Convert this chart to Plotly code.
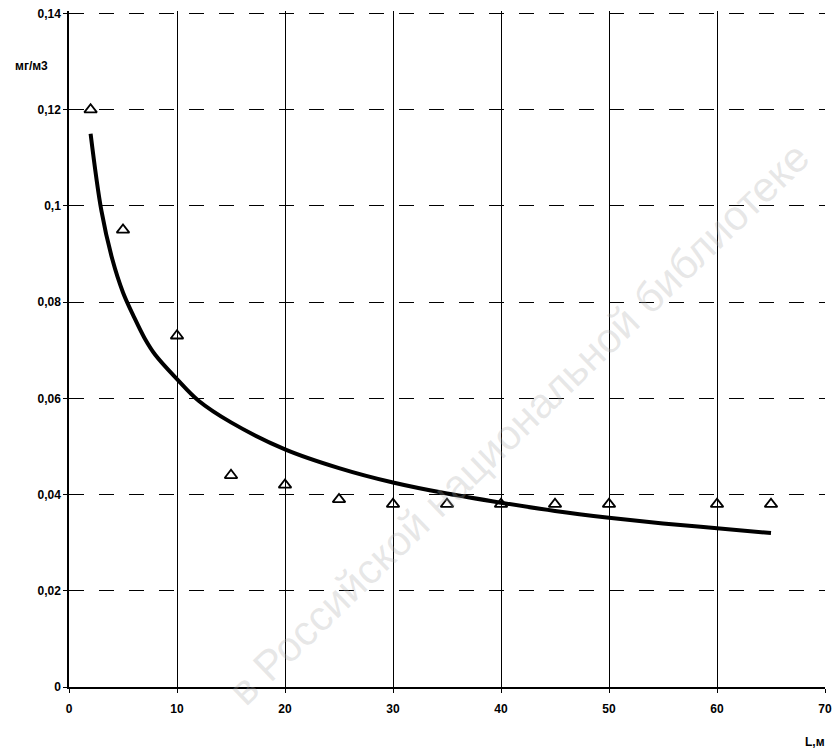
import plotly.graph_objects as go

# Measured points (triangles)
pts_x = [2, 5, 10, 15, 20, 25, 30, 35, 40, 45, 50, 60, 65]
pts_y = [0.120, 0.095, 0.073, 0.044, 0.042, 0.039, 0.038, 0.038, 0.038, 0.038, 0.038, 0.038, 0.038]

# Trend curve
curve_x = [2, 3, 4, 5, 6, 7, 8, 10, 12, 15, 20, 25, 30, 35, 40, 45, 50, 55, 60, 65]
curve_y = [0.115, 0.099, 0.089, 0.082, 0.077, 0.0725, 0.069, 0.064, 0.0595, 0.055, 0.0494, 0.0455, 0.0425,
           0.0402, 0.0383, 0.0366, 0.0352, 0.034, 0.033, 0.032]

x_ticks = [0, 10, 20, 30, 40, 50, 60, 70]
y_ticks = [0, 0.02, 0.04, 0.06, 0.08, 0.10, 0.12, 0.14]
y_tick_text = ["0", "0,02", "0,04", "0,06", "0,08", "0,1", "0,12", "0,14"]

fig = go.Figure()
fig.add_trace(go.Scatter(x=curve_x, y=curve_y, mode="lines",
                         line=dict(color="black", width=4, shape="spline", smoothing=1.0),
                         showlegend=False, hoverinfo="skip"))
fig.add_trace(go.Scatter(x=pts_x, y=pts_y, mode="markers",
                         marker=dict(symbol="triangle-up-open", size=11,
                                     color="black", line=dict(width=1.8, color="black")),
                         showlegend=False))

font_tick = dict(family="Liberation Sans Narrow, Arial Narrow, Liberation Sans, Arial", size=12, color="black")

fig.update_xaxes(range=[0, 70], tickvals=x_ticks, ticktext=["<b>%d</b>" % v for v in x_ticks],
                 showgrid=True, gridcolor="black", gridwidth=1, griddash="solid",
                 showline=True, linecolor="black", linewidth=1.5, mirror=False,
                 ticks="outside", ticklen=4, tickcolor="black", automargin=False,
                 tickfont=font_tick, zeroline=False, ticklabelstandoff=6)
fig.update_yaxes(range=[0, 0.1405], tickvals=y_ticks, ticktext=["<b>%s</b>" % t for t in y_tick_text],
                 showgrid=True, gridcolor="black", gridwidth=1, griddash="longdash",
                 showline=True, linecolor="black", linewidth=1.5, automargin=False,
                 ticks="outside", ticklen=4, tickcolor="black",
                 tickfont=font_tick, zeroline=False)

fig.update_layout(
    width=833, height=752,
    margin=dict(l=69, r=8, t=11, b=65),
    paper_bgcolor="white", plot_bgcolor="white",
    annotations=[
        dict(text="<b>мг/м3</b>", x=-0.05, y=0.918, xref="paper", yref="paper",
             xanchor="center", yanchor="middle", showarrow=False,
             font=dict(family="Liberation Sans, Arial", size=12, color="black")),
        dict(text="<b>L,м</b>", xref="paper", yref="paper", x=1.003, y=-0.082,
             xanchor="right", yanchor="middle", showarrow=False,
             font=dict(family="Liberation Sans, Arial", size=12, color="black")),
        dict(text="в Российской национальной библиотеке", xref="paper", yref="paper",
             x=0.595, y=0.39, showarrow=False, textangle=-44,
             font=dict(family="Liberation Sans, Arial", size=42, color="rgba(170,170,170,0.28)")),
    ],
)

fig.write_html("out.html", config={"displayModeBar": False},
               post_script="document.body.style.margin='0';document.body.style.overflow='hidden';")
